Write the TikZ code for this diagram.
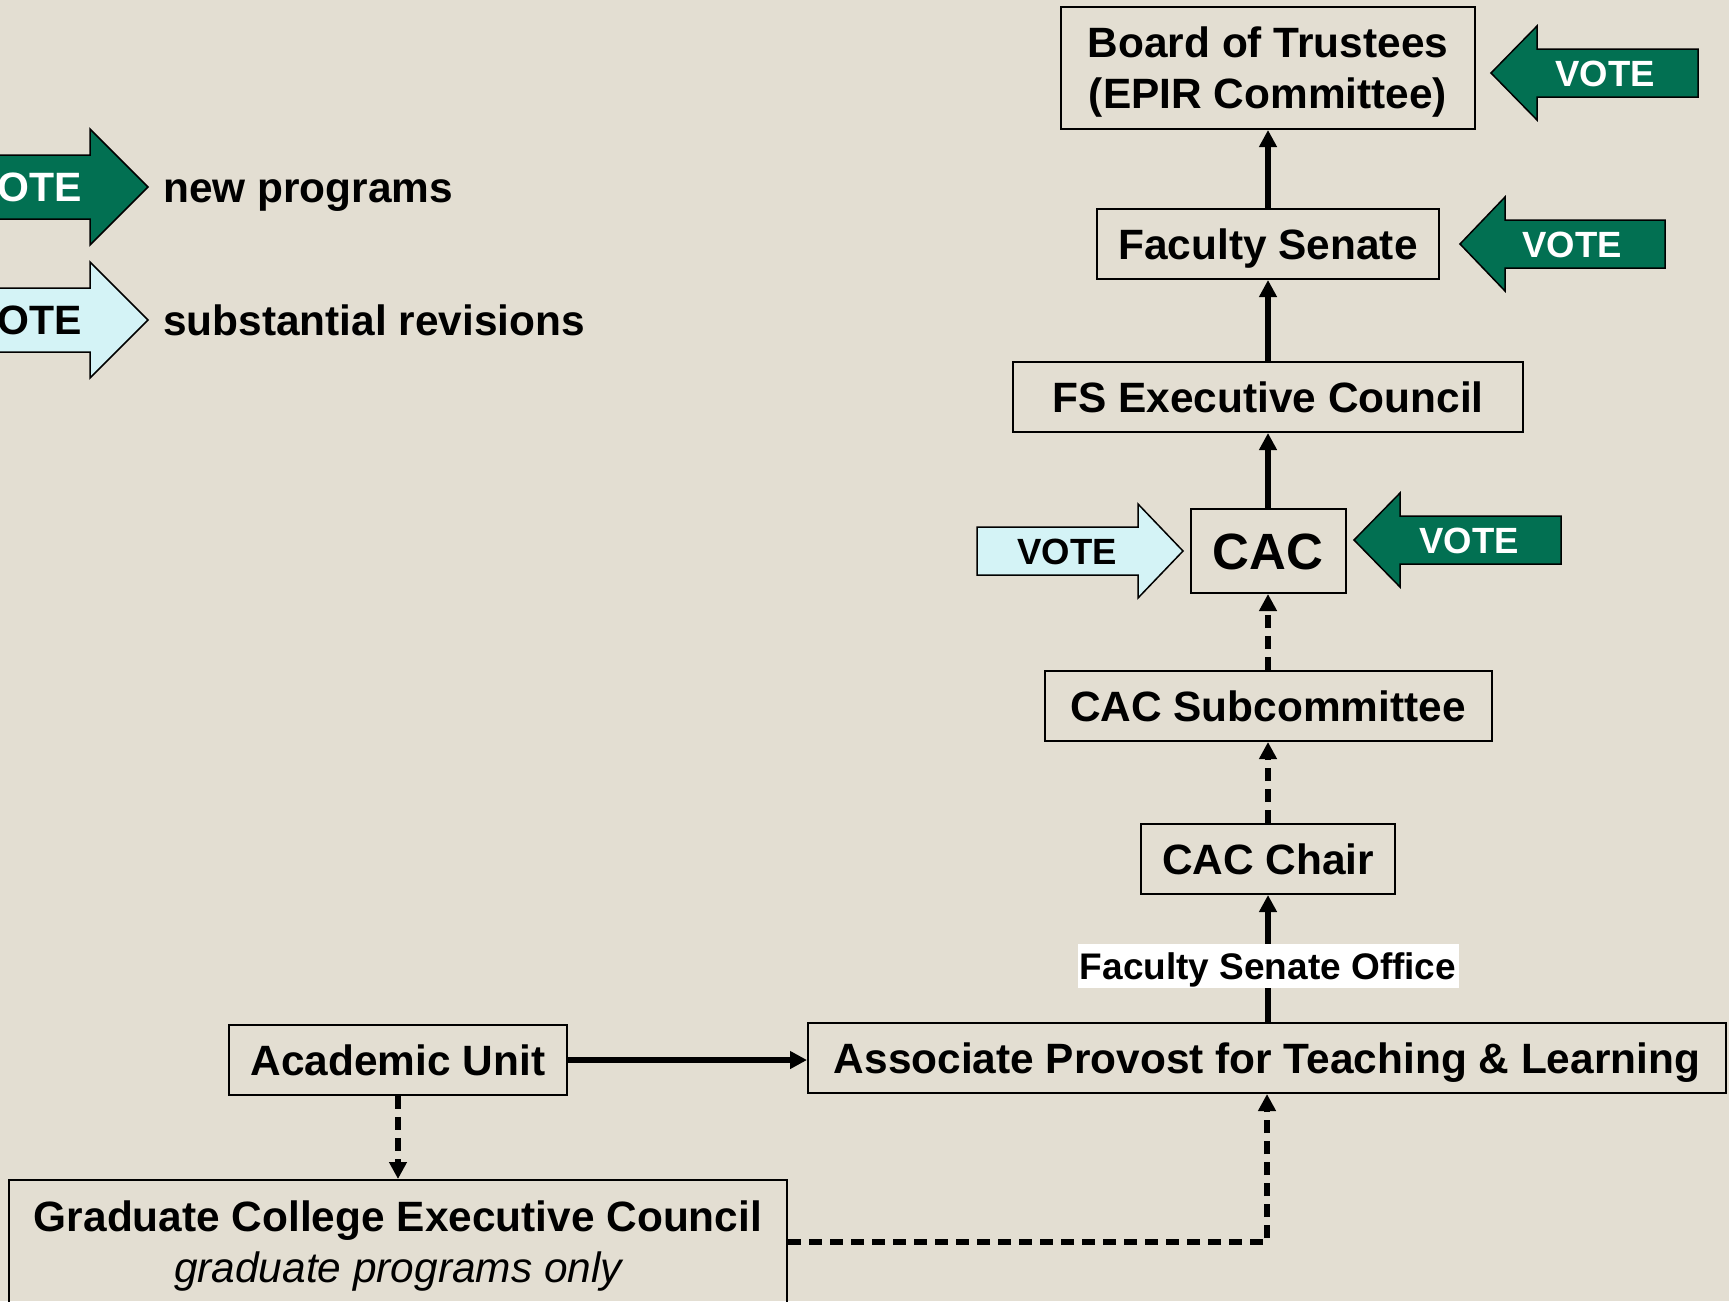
\documentclass[tikz,border=0pt]{standalone}
\usepackage{fontspec}
\setmainfont{Liberation Sans}
\usetikzlibrary{arrows.meta}
\definecolor{paper}{RGB}{227,222,210}
\definecolor{votegreen}{RGB}{2,112,82}
\definecolor{votecyan}{RGB}{212,243,246}

\begin{document}
\begin{tikzpicture}[x=1pt, y=-1pt, >={Triangle[length=17pt,width=17pt]}, every node/.style={font=\fontsize{42.4}{51}\selectfont\bfseries}]
\tikzstyle{box}=[rectangle, draw, line width=2pt, inner sep=0pt, minimum height=70pt]
\tikzstyle{capbox}=[box, text height=30.4pt, text depth=0pt]
\tikzstyle{link}=[->, line width=5.5pt]
\tikzstyle{dlink}=[link, dash pattern=on 13pt off 8pt]
\tikzstyle{newvote}=[fill=votegreen, draw, line width=1.5pt]
\tikzstyle{revvote}=[fill=votecyan, draw, line width=1.5pt]
\tikzstyle{votetext}=[font=\fontsize{36.5}{40}\selectfont\bfseries, text height=26pt, text depth=0pt, inner sep=0pt]
\tikzstyle{bigvote}=[votetext, font=\fontsize{41}{45}\selectfont\bfseries, text height=29.5pt]
\tikzstyle{legendtext}=[anchor=west, inner sep=0pt, text height=30.4pt, text depth=0pt]
\clip (0,0) rectangle (1729,1301);
\fill[paper] (0,0) rectangle (1729,1301);

% legend
\filldraw[newvote] (148,187) -- ++(-58,-58) -- ++(0,26) -- ++(-200,0) -- ++(0,64) -- ++(200,0) -- ++(0,26) -- cycle;
\node[bigvote, text=white] (lgnew) at (26,187) {VOTE};
\node[legendtext] (lgnewtext) at (163,187) {new programs};
\filldraw[revvote] (148,320) -- ++(-58,-58) -- ++(0,26) -- ++(-200,0) -- ++(0,64) -- ++(200,0) -- ++(0,26) -- cycle;
\node[bigvote] (lgrev) at (26,320) {VOTE};
\node[legendtext] (lgrevtext) at (163,320) {substantial revisions};

% approval chain
\node[box, align=center, minimum width=414pt, minimum height=122pt, text depth=0pt] (board) at (1268,68) {Board of Trustees\\(EPIR Committee)};
\node[capbox, minimum width=342pt] (senate) at (1268,244) {Faculty Senate};
\node[capbox, minimum width=510pt] (fsec) at (1268,397) {FS Executive Council};
\node[capbox, minimum width=155pt, minimum height=84pt, font=\fontsize{51}{60}\selectfont\bfseries, text height=37pt] (cac) at (1268,551) {CAC};
\node[capbox, minimum width=447pt] (sub) at (1268,706) {CAC Subcommittee};
\node[capbox, minimum width=254pt] (chair) at (1268,859) {CAC Chair};
\node[capbox, minimum width=918pt] (assoc) at (1267,1058) {Associate Provost for Teaching \& Learning};
\node[capbox, minimum width=338pt] (acad) at (398,1060) {Academic Unit};
\node[box, align=center, minimum width=778pt, minimum height=124pt, text depth=0pt] (grad) at (398,1242) {Graduate College Executive Council\\{\mdseries\itshape graduate programs only}};

\draw[link] (senate) -- (board);
\draw[link] (fsec) -- (senate);
\draw[link] (cac) -- (fsec);
\draw[dlink] (sub) -- (cac);
\draw[dlink] (chair) -- (sub);
\draw[link] (assoc.north -| chair.south) -- node[pos=0.44, fill=white, inner sep=0pt, minimum width=381pt, minimum height=44pt, text height=26.5pt, text depth=0pt, font=\fontsize{37}{42}\selectfont\bfseries] (fso) {Faculty Senate Office} (chair.south);
\draw[link] (acad.east) -- (acad.east -| assoc.west);
\draw[dlink] (acad) -- (grad);
\draw[dlink] (grad.east) -| (assoc.south);

% votes
\filldraw[newvote] (1491,73) -- ++(46,-47) -- ++(0,23) -- ++(161,0) -- ++(0,48) -- ++(-161,0) -- ++(0,23) -- cycle;
\node[votetext, text=white] (vboard) at (1605,73) {VOTE};
\filldraw[newvote] (1460,244) -- ++(45,-47) -- ++(0,23) -- ++(160,0) -- ++(0,48) -- ++(-160,0) -- ++(0,23) -- cycle;
\node[votetext, text=white] (vsenate) at (1572,244) {VOTE};
\filldraw[newvote] (1354,540) -- ++(46,-47) -- ++(0,23) -- ++(161,0) -- ++(0,48) -- ++(-161,0) -- ++(0,23) -- cycle;
\node[votetext, text=white] (vcacnew) at (1469,540) {VOTE};
\filldraw[revvote] (1183,551) -- ++(-45,-47) -- ++(0,23) -- ++(-161,0) -- ++(0,48) -- ++(161,0) -- ++(0,23) -- cycle;
\node[votetext] (vcacrev) at (1067,551) {VOTE};
\end{tikzpicture}
\end{document}
